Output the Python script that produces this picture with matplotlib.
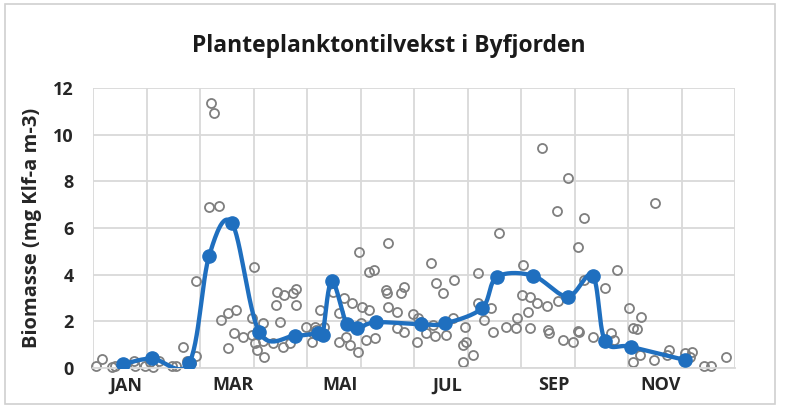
import numpy as np
import matplotlib.pyplot as plt
import matplotlib.transforms as mtransforms
from matplotlib.patches import Rectangle

plt.rcParams['font.family'] = ['Open Sans', 'DejaVu Sans']

# måneder (x i måneder fra 1. jan), biomasse i mg Klf-a m-3
month_labels = ['JAN', 'MAR', 'MAI', 'JUL', 'SEP', 'NOV']
month_label_pos = [0.5, 2.5, 4.5, 6.5, 8.5, 10.5]

# enkeltmålinger (grå sirkler)
obs_x = [0.06, 0.17, 0.35, 0.41, 0.77, 0.79, 0.97, 1.07, 1.13, 1.24, 1.47, 1.56,
         1.69, 1.75, 1.83, 1.93, 1.93, 2.20, 2.26, 2.17, 2.36, 2.39, 2.53, 2.67,
         2.53, 2.64, 2.80, 3.00, 2.97, 2.98, 3.03, 3.06, 3.18, 3.20, 3.17, 3.37,
         3.43, 3.42, 3.50, 3.55, 3.57, 3.68, 3.74, 3.79, 3.79, 3.99, 4.12, 4.09,
         4.15, 4.24, 4.17, 4.31,
         4.49, 4.59, 4.60, 4.69, 4.73, 4.80, 4.84, 4.96, 4.98, 5.02, 5.00, 5.10,
         5.16, 5.15, 5.25, 5.28, 5.48, 5.50, 5.52, 5.52, 5.68, 5.69, 5.76, 5.81,
         5.81, 5.99, 6.05, 6.08, 6.14, 6.22, 6.31, 6.36, 6.39, 6.42, 6.54, 6.60,
         6.73, 6.75, 6.91, 6.92, 6.97, 6.95, 7.11, 7.20, 7.20, 7.31, 7.43, 7.47,
         7.58, 7.72, 7.92, 7.91, 8.03, 8.01, 8.16, 8.14, 8.16, 8.30, 8.39, 8.48,
         8.51, 8.52, 8.68, 8.69,
         8.87, 9.17, 9.06, 9.17, 8.79, 8.98, 9.06, 9.08, 9.35, 9.57, 9.69, 9.73,
         9.79, 10.01, 10.24, 10.09, 10.16, 10.10, 10.22, 10.50, 10.49, 10.72,
         10.77, 11.07, 11.19, 11.16, 11.42, 11.56, 11.83]
obs_y = [0.10, 0.37, 0.06, 0.09, 0.31, 0.09, 0.09, 0.27, 0.06, 0.30, 0.10, 0.09,
         0.89, 0.31, 0.20, 0.51, 3.74, 11.37, 10.94, 6.91, 6.94, 2.06, 2.37, 2.49,
         0.84, 1.51, 1.34, 4.34, 2.13, 1.41, 1.06, 0.77, 1.91, 0.49, 1.17, 1.06,
         3.24, 2.70, 1.99, 0.91, 3.13, 1.06, 3.20, 3.39, 2.70, 1.77, 1.49, 1.13,
         1.77, 2.49, 1.63, 1.77,
         3.27, 2.34, 1.13, 2.99, 1.34, 0.99, 2.80, 0.70, 4.99, 2.63, 1.91, 1.20,
         2.49, 4.13, 4.20, 1.27, 3.34, 3.23, 5.34, 2.60, 1.70, 2.41, 3.20, 3.46,
         1.56, 2.30, 1.13, 2.13, 1.99, 1.49, 4.49, 1.84, 1.39, 3.66, 3.20, 1.41,
         2.13, 3.77, 0.27, 0.99, 1.13, 1.77, 0.56, 4.09, 2.77, 2.06, 2.56, 1.56,
         5.77, 1.77, 2.13, 1.70, 4.41, 3.13, 3.06, 2.41, 1.70, 2.77, 9.42, 2.66,
         1.63, 1.50, 6.74, 2.89,
         8.13, 6.42, 5.17, 3.77, 1.20, 1.13, 1.59, 1.55, 1.34, 3.42, 1.49, 1.20,
         4.20, 2.56, 2.20, 1.70, 1.66, 0.27, 0.56, 7.06, 0.34, 0.56,
         0.77, 0.63, 0.70, 0.49, 0.09, 0.09, 0.49]

# middelverdier (blå linje)
mean_x = [0.57, 1.10, 1.80, 2.17, 2.60, 3.11, 3.78, 4.21, 4.29, 4.46, 4.74, 4.93,
          5.29, 6.14, 6.58, 7.27, 7.55, 8.22, 8.87, 9.34, 9.57, 10.05, 11.07]
mean_y = [0.17, 0.41, 0.23, 4.80, 6.20, 1.53, 1.39, 1.49, 1.41, 3.73, 1.89, 1.70,
          1.96, 1.87, 1.91, 2.56, 3.90, 3.96, 3.06, 3.96, 1.17, 0.91, 0.34]


def smooth_line(xs, ys, n=30):
    # Excel-lignende glatting (Bezier med kontrollpunkter fra naboene)
    p = np.column_stack([xs, ys])
    p = np.vstack([p[0], p, p[-1]])
    out = []
    t = np.linspace(0, 1, n)[:, None]
    for i in range(1, len(p) - 2):
        p0, p1, p2, p3 = p[i - 1], p[i], p[i + 1], p[i + 2]
        c1 = p1 + (p2 - p0) / 6
        c2 = p2 - (p3 - p1) / 6
        seg = ((1 - t) ** 3) * p1 + 3 * ((1 - t) ** 2) * t * c1 \
            + 3 * (1 - t) * t ** 2 * c2 + t ** 3 * p2
        out.append(seg)
    out = np.vstack(out)
    return out[:, 0], out[:, 1]


fig = plt.figure(figsize=(7.93, 4.2), dpi=100)
ax = fig.add_axes([93 / 793, 1 - 368 / 420, 642 / 793, 280 / 420])

grid_c = '#d9d9d9'
ax.set_xlim(0, 12)
ax.set_ylim(0, 12)
ax.set_xticks(range(13))
ax.set_yticks(range(0, 13, 2))
ax.set_xticklabels([])
ax.set_xticks(month_label_pos, minor=True)
ax.set_xticklabels(month_labels, minor=True)
ax.grid(True, color=grid_c, linewidth=1.3)
ax.set_axisbelow(True)
for s in ['top', 'right', 'left']:
    ax.spines[s].set_visible(False)
ax.spines['bottom'].set_color(grid_c)
ax.spines['bottom'].set_linewidth(1.3)
ax.tick_params(axis='both', which='both', length=0)
ax.tick_params(axis='y', labelsize=13, pad=14)
ax.tick_params(axis='x', which='minor', labelsize=13, pad=6)
shift = mtransforms.ScaledTranslation(6 / 100, 0, fig.dpi_scale_trans)
for lab in ax.get_xticklabels(minor=True):
    lab.set_transform(lab.get_transform() + shift)
for lab in ax.get_yticklabels() + ax.get_xticklabels(minor=True):
    lab.set_fontweight('bold')
    lab.set_color('#262626')

ax.plot(obs_x, obs_y, 'o', ms=6.5, mfc='none', mec='#7f7f7f', mew=1.3,
        clip_on=False, zorder=2)

sx, sy = smooth_line(mean_x, mean_y)
ax.plot(sx, sy, color='#1f6fbf', lw=3.1, zorder=3, solid_capstyle='round')
ax.plot(mean_x, mean_y, 'o', ms=9.5, color='#1f6fbf', zorder=4)

ax.set_ylabel('Biomasse (mg Klf-a m-3)', fontsize=14.5, fontweight='bold',
              color='#262626', labelpad=8)
fig.text(389 / 793, 1 - 46 / 420, 'Planteplanktontilvekst i Byfjorden',
         ha='center', va='center', fontsize=16.5, color='#1a1a1a',
         fontweight='bold')

fig.patches.append(Rectangle((5 / 793, 1 - 404 / 420), 770 / 793, 400 / 420,
                             transform=fig.transFigure, fill=False,
                             edgecolor='#d0d0d0', linewidth=1.2))

fig.savefig('out.png', dpi=100, facecolor='white')
